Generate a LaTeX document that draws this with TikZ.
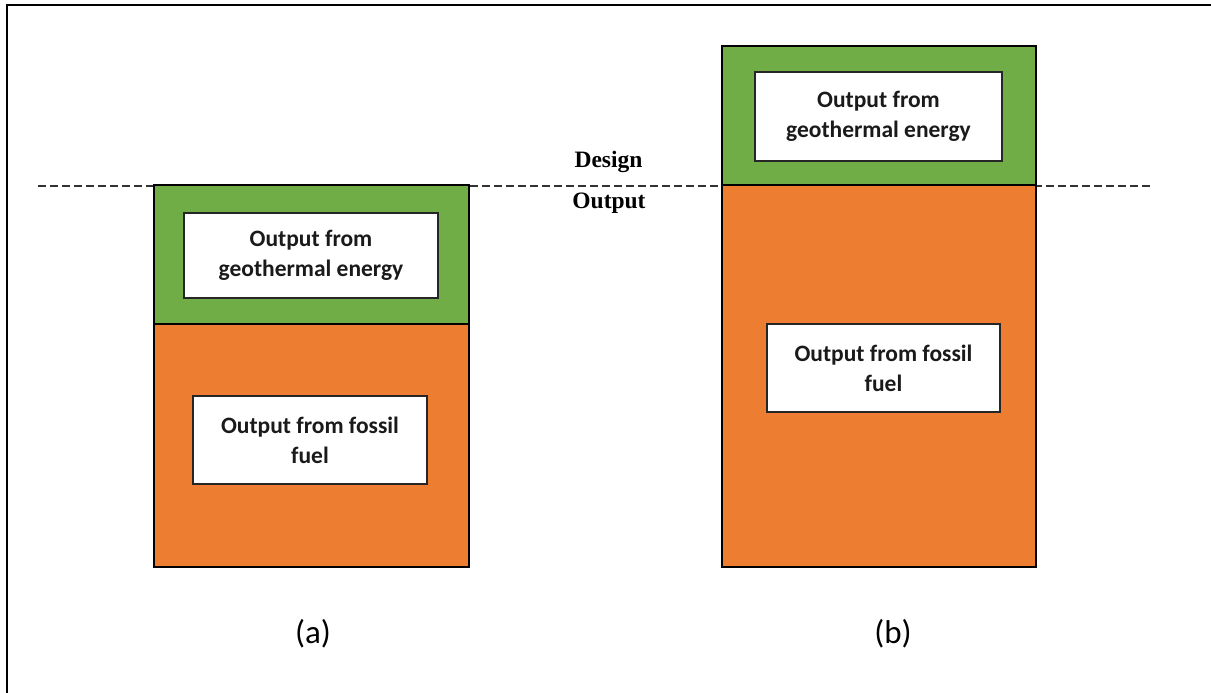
\documentclass[tikz,border=0pt]{standalone}
\usepackage{fontspec}
\setmainfont{Liberation Serif}
\newfontfamily\boxfont{Carlito}
\definecolor{geogreen}{HTML}{70AD47}
\definecolor{fossilorange}{HTML}{ED7D31}
\definecolor{labelink}{HTML}{1A1A1A}
\begin{document}
\begin{tikzpicture}[x=1pt,y=-1pt,
  bar/.style={draw=black, line width=2.4pt, inner sep=0pt, outer sep=0pt},
  greenbar/.style={bar, fill=geogreen},
  orangebar/.style={bar, fill=fossilorange},
  label box/.style={draw=black!85, line width=1.2pt, fill=white, inner sep=0pt,
    align=center, text=labelink,
    font=\boxfont\bfseries\fontsize{23.5}{30}\selectfont},
  level text/.style={font=\bfseries\fontsize{23.5}{26}\selectfont, inner sep=0pt, anchor=base},
  case text/.style={font=\boxfont\fontsize{33}{36}\selectfont, inner sep=0pt, anchor=base}]
\useasboundingbox (0,0) rectangle (1211,693);
\fill[white] (0,0) rectangle (1211,693);

% frame along the top and left edges
\coordinate (frameTL) at (7,5);
\coordinate (frameTR) at (1211,5);
\coordinate (frameBL) at (7,693);
\draw[line width=2.2pt] (frameTR) -- (frameTL) -- (frameBL);

% design output level
\coordinate (lvlL) at (38,186);
\coordinate (lvlR) at (1153,186);
\draw[line width=1.3pt, dash pattern=on 8pt off 4pt, black!80] (lvlL) -- (lvlR);
\node[level text] (design) at (608.5,167.5) {Design};
\node[level text] (output) at (609,208.5) {Output};

% case (a)
\node[orangebar, minimum width=315, minimum height=243] (aOrange) at (311.5,445.5) {};
\node[greenbar, minimum width=315, minimum height=139] (aGreen) at (311.5,254.5) {};
\node[label box, minimum width=254, minimum height=85] (aGeo) at (311,255.5)
  {Output from\\geothermal energy};
\node[label box, minimum width=234, minimum height=88] (aFossil) at (310,440)
  {Output from fossil\\fuel};
\node[case text] (aCap) at (313,643) {(a)};

% case (b)
\node[orangebar, minimum width=314, minimum height=382] (bOrange) at (879,376) {};
\node[greenbar, minimum width=314, minimum height=139] (bGreen) at (879,115.5) {};
\node[label box, minimum width=247, minimum height=89] (bGeo) at (878.5,116.5)
  {Output from\\geothermal energy};
\node[label box, minimum width=233, minimum height=88] (bFossil) at (883.5,368)
  {Output from fossil\\fuel};
\node[case text] (bCap) at (893,643) {(b)};
\end{tikzpicture}
\end{document}
